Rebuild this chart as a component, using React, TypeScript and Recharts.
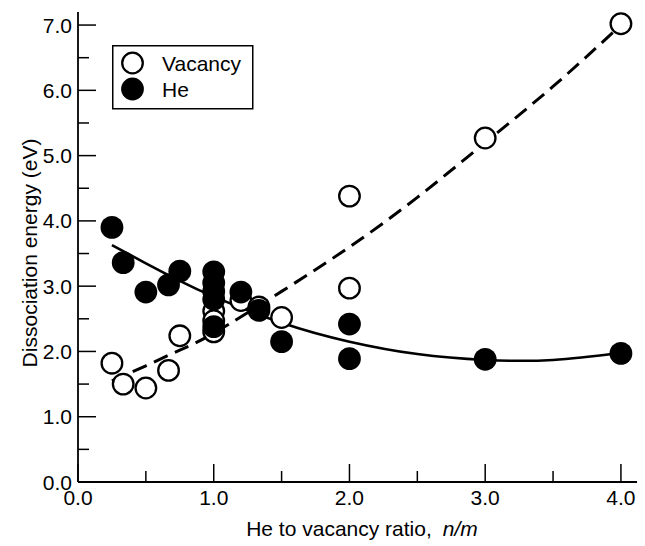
import React from 'react';
import { ComposedChart, Scatter, Line, XAxis, YAxis, Legend } from 'recharts';

// ---- data ----
const vacancyX = [0.25, 0.333, 0.5, 0.667, 0.75, 1, 1, 1, 1.2, 1.333, 1.5, 2, 2, 3, 4];
const vacancyY = [1.82, 1.5, 1.44, 1.71, 2.24, 2.62, 2.47, 2.3, 2.78, 2.68, 2.52, 4.38, 2.97, 5.27, 7.02];

const heX = [0.25, 0.333, 0.5, 0.667, 0.75, 1, 1, 1, 1, 1, 1.2, 1.333, 1.5, 2, 2, 3, 4];
const heY = [3.9, 3.36, 2.91, 3.02, 3.23, 3.22, 3.05, 2.92, 2.8, 2.38, 2.91, 2.63, 2.15, 2.42, 1.89, 1.88, 1.97];

const vacFitX = [0.25, 0.5, 0.75, 1, 1.5, 2, 2.5, 3, 3.5, 4];
const vacFitY = [1.55, 1.78, 2.02, 2.28, 2.92, 3.6, 4.36, 5.2, 6.06, 7.0];

const heFitX = [0.25, 0.5, 0.75, 1, 1.5, 2, 2.5, 3, 3.5, 4];
const heFitY = [3.63, 3.35, 3.08, 2.84, 2.44, 2.15, 1.96, 1.87, 1.87, 1.98];

const xTicks = [0, 0.5, 1, 1.5, 2, 2.5, 3, 3.5, 4];
const yTicks = [0, 0.5, 1, 1.5, 2, 2.5, 3, 3.5, 4, 4.5, 5, 5.5, 6, 6.5, 7];

const xLabel = 'He to vacancy ratio,';
const xLabelItalic = 'n/m';
const yLabel = 'Dissociation energy (eV)';
const legendNames = ['Vacancy', 'He'];

// ---- derived tables ----
const vacancyData = vacancyX.map((x, i) => ({ x, y: vacancyY[i] }));
const heData = heX.map((x, i) => ({ x, y: heY[i] }));
const vacFitData = vacFitX.map((x, i) => ({ x, y: vacFitY[i] }));
const heFitData = heFitX.map((x, i) => ({ x, y: heFitY[i] }));

const FONT = "'Liberation Sans', Arial, Helvetica, sans-serif";
const FS = 21;
const MAJOR = 18;
const MINOR = 11;

const isMajor = (v: number) => Math.abs(v - Math.round(v)) < 1e-6;

const BottomTick = (props: any) => {
  const { x, y, payload } = props;
  const v = payload.value;
  const major = isMajor(v);
  return (
    <g>
      <line x1={x} y1={y} x2={x} y2={y - (major ? MAJOR : MINOR)} stroke="#000" strokeWidth={1.5} />
      {major && (
        <text x={x} y={y + 23} textAnchor="middle" fontSize={FS} fontFamily={FONT} fill="#000">
          {v.toFixed(1)}
        </text>
      )}
    </g>
  );
};

const TopTick = (props: any) => {
  const { x, y, payload } = props;
  const major = isMajor(payload.value);
  return <line x1={x} y1={y} x2={x} y2={y + (major ? MAJOR : MINOR)} stroke="#000" strokeWidth={1.5} />;
};

const LeftTick = (props: any) => {
  const { x, y, payload } = props;
  const v = payload.value;
  const major = isMajor(v);
  return (
    <g>
      <line x1={x} y1={y} x2={x + (major ? MAJOR : MINOR)} y2={y} stroke="#000" strokeWidth={1.5} />
      {major && (
        <text x={x - 6} y={y + 7.5} textAnchor="end" fontSize={FS} fontFamily={FONT} fill="#000">
          {v.toFixed(1)}
        </text>
      )}
    </g>
  );
};

const RightTick = (props: any) => {
  const { x, y, payload } = props;
  const major = isMajor(payload.value);
  return <line x1={x} y1={y} x2={x - (major ? MAJOR : MINOR)} y2={y} stroke="#000" strokeWidth={1.5} />;
};

const OpenCircle = (props: any) => (
  <circle cx={props.cx} cy={props.cy} r={10.3} fill="#fff" stroke="#000" strokeWidth={2.3} />
);
const FilledCircle = (props: any) => (
  <circle cx={props.cx} cy={props.cy} r={11.4} fill="#000" stroke="none" />
);

const LegendBox = () => (
  <svg width={142} height={65} style={{ display: 'block' }}>
    <rect x={0.75} y={0.75} width={140} height={63} fill="#fff" stroke="#000" strokeWidth={1.5} />
    <circle cx={20.5} cy={18} r={10.3} fill="#fff" stroke="#000" strokeWidth={2.3} />
    <circle cx={20.5} cy={44} r={11.4} fill="#000" />
    <text x={50} y={25.5} fontSize={FS} fontFamily={FONT} fill="#000">{legendNames[0]}</text>
    <text x={50} y={51.5} fontSize={FS} fontFamily={FONT} fill="#000">{legendNames[1]}</text>
  </svg>
);

const YTitle = (props: any) => {
  const cx = 28.5;
  const cy = 245;
  return (
    <text
      x={cx}
      y={cy}
      transform={`rotate(-90 ${cx} ${cy})`}
      textAnchor="middle"
      fontSize={FS}
      fontFamily={FONT}
      fill="#000"
    >
      {yLabel}
    </text>
  );
};

const XTitle = (props: any) => (
  <text x={354} y={528} textAnchor="middle" fontSize={FS} fontFamily={FONT} fill="#000">
    {xLabel}
    <tspan dx={11} fontStyle="italic">{xLabelItalic}</tspan>
  </text>
);

export default function App() {
  return (
    <div style={{ width: 637, height: 538, overflow: 'hidden' }}>
      <ComposedChart width={637} height={538} margin={{ top: 4, right: 1, bottom: 0, left: 0 }}>
        <XAxis
          xAxisId="b"
          dataKey="x"
          type="number"
          domain={[0, 4.17]}
          allowDataOverflow
          ticks={xTicks}
          orientation="bottom"
          height={64}
          tickSize={0}
          tickMargin={0}
          tickLine={false}
          tick={<BottomTick />}
          axisLine={{ stroke: '#000', strokeWidth: 1.8 }}
          interval={0}
          label={<XTitle />}
        />
        <XAxis
          xAxisId="t"
          dataKey="x"
          type="number"
          domain={[0, 4.17]}
          allowDataOverflow
          ticks={xTicks}
          orientation="top"
          height={0}
          tickSize={0}
          tickMargin={0}
          tickLine={false}
          tick={<TopTick />}
          axisLine={{ stroke: '#000', strokeWidth: 1.8 }}
          interval={0}
        />
        <YAxis
          yAxisId="l"
          dataKey="y"
          type="number"
          domain={[0, 7.2]}
          allowDataOverflow
          ticks={yTicks}
          orientation="left"
          width={70}
          tickSize={0}
          tickMargin={0}
          tickLine={false}
          tick={<LeftTick />}
          axisLine={{ stroke: '#000', strokeWidth: 1.8 }}
          interval={0}
          label={<YTitle />}
        />
        <YAxis
          yAxisId="r"
          dataKey="y"
          type="number"
          domain={[0, 7.2]}
          allowDataOverflow
          ticks={yTicks}
          orientation="right"
          width={0}
          tickSize={0}
          tickMargin={0}
          tickLine={false}
          tick={<RightTick />}
          axisLine={{ stroke: '#000', strokeWidth: 1.8 }}
          interval={0}
        />
        <Line
          xAxisId="b"
          yAxisId="l"
          data={vacFitData}
          dataKey="y"
          type="natural"
          stroke="#000"
          strokeWidth={3}
          strokeDasharray="15 8"
          dot={false}
          activeDot={false}
          isAnimationActive={false}
          legendType="none"
        />
        <Line
          xAxisId="b"
          yAxisId="l"
          data={heFitData}
          dataKey="y"
          type="natural"
          stroke="#000"
          strokeWidth={2.6}
          dot={false}
          activeDot={false}
          isAnimationActive={false}
          legendType="none"
        />
        <Scatter
          xAxisId="b"
          yAxisId="l"
          name={legendNames[0]}
          data={vacancyData}
          dataKey="y"
          shape={<OpenCircle />}
          isAnimationActive={false}
        />
        <Scatter
          xAxisId="b"
          yAxisId="l"
          name={legendNames[1]}
          data={heData}
          dataKey="y"
          shape={<FilledCircle />}
          isAnimationActive={false}
        />
        <Legend
          layout="horizontal"
          verticalAlign="middle"
          align="center"
          content={<LegendBox />}
          wrapperStyle={{ left: 104, top: 37, width: 'auto', height: 'auto' }}
        />
      </ComposedChart>
    </div>
  );
}
